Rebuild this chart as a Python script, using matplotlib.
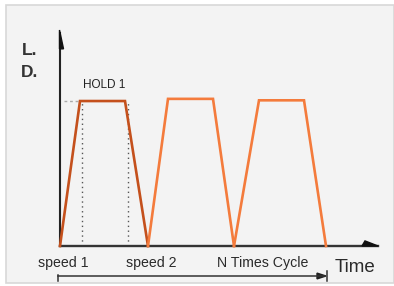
import matplotlib
matplotlib.use("Agg")
import matplotlib.pyplot as plt
from matplotlib.patches import Rectangle, Polygon

# cycle profiles: time (arbitrary units) vs displacement (L.D.)
t_cycle1 = [0.0, 2.0, 6.5, 8.8]
d_cycle1 = [0.0, 1.0, 1.0, 0.0]
t_cycle2 = [8.8, 10.8, 15.3, 17.4]
d_cycle2 = [0.0, 1.015, 1.015, 0.0]
t_cycle3 = [17.4, 19.9, 24.4, 26.6]
d_cycle3 = [0.0, 1.005, 1.005, 0.0]
hold_marks = [2.2, 6.8]
phase_labels = ["speed 1", "speed 2", "N Times Cycle"]
phase_pos = [0.3, 9.1, 20.3]

FONT = ["Liberation Sans", "DejaVu Sans"]
DARK = "#c4501c"
ORANGE = "#f47b3c"

fig = plt.figure(figsize=(3.94, 2.86), dpi=100)
ax = fig.add_axes([0, 0, 1, 1])
ax.set_xlim(-6.0, 33.4)
ax.set_ylim(-0.276, 1.697)
ax.axis("off")

# panel background
ax.add_patch(Rectangle((0.015, 0.012), 0.985, 0.97, transform=ax.transAxes,
                       facecolor="#f3f3f3", edgecolor="#d8d8d8", lw=1.2, zorder=0))

# axes with arrows
ax.plot([0, 0], [0, 1.47], color="#222222", lw=1.5, zorder=3)
ax.add_patch(Polygon([[-0.05, 1.49], [0.35, 1.36], [-0.05, 1.36]], closed=True,
                     color="#111111", zorder=3))
ax.plot([0, 31.8], [0, 0], color="#333333", lw=1.7, zorder=3)
ax.add_patch(Polygon([[31.8, 0.0], [30.5, 0.035], [30.2, 0.0]], closed=True,
                     color="#111111", zorder=3))

# hold guides
for th in hold_marks:
    ax.plot([th, th], [0, 1.0], color="#555555", lw=1.0, ls=(0, (1, 2.5)), zorder=2)
ax.plot([0.4, 2.0], [1.0, 1.0], color="#aaaaaa", lw=1.0, ls=(0, (2, 2)), zorder=2)

# cycles
ax.plot(t_cycle1, d_cycle1, color=DARK, lw=1.9, zorder=4, solid_joinstyle="miter")
ax.plot(t_cycle2, d_cycle2, color=ORANGE, lw=1.9, zorder=4, solid_joinstyle="miter")
ax.plot(t_cycle3, d_cycle3, color=ORANGE, lw=1.9, zorder=4, solid_joinstyle="miter")

# texts
ax.text(-3.0, 1.35, "L.", fontsize=12.5, fontweight="bold", family=FONT,
        color="#333333", ha="center", va="center")
ax.text(-3.0, 1.20, "D.", fontsize=12.5, fontweight="bold", family=FONT,
        color="#333333", ha="center", va="center")
ax.text(4.4, 1.11, "HOLD 1", fontsize=8.5, family=FONT, color="#222222",
        ha="center", va="center")
for lbl, xp in zip(phase_labels, phase_pos):
    ax.text(xp, -0.118, lbl, fontsize=10.2, family=FONT, color="#2a2a2a",
            ha="center", va="center")
ax.text(29.5, -0.15, "Time", fontsize=13.5, family=FONT, color="#2a2a2a",
        ha="center", va="center")

# range bracket
yb = -0.207
ax.plot([-0.2, 26.4], [yb, yb], color="#333333", lw=1.1)
ax.plot([-0.2, -0.2], [yb + 0.005, yb - 0.035], color="#333333", lw=1.1)
ax.plot([26.7, 26.7], [yb + 0.035, yb - 0.035], color="#333333", lw=1.1)
ax.add_patch(Polygon([[26.6, yb], [25.7, yb + 0.02], [25.7, yb - 0.02]], closed=True,
                     color="#222222"))

fig.savefig("out.png", dpi=100)
